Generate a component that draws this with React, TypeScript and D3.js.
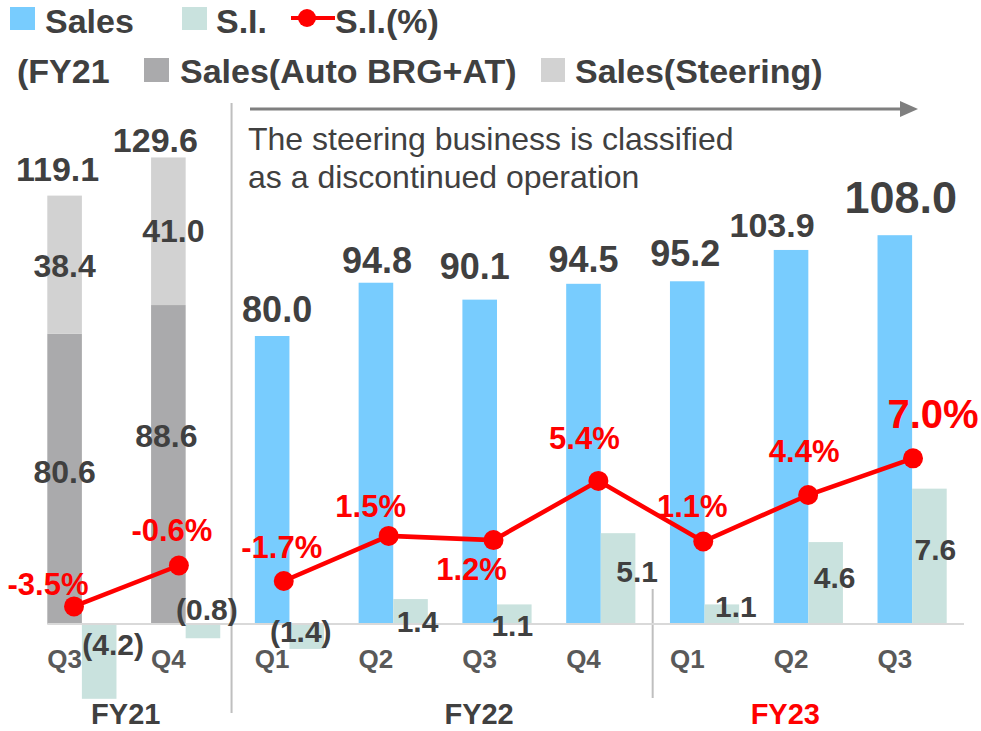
import * as d3 from "d3";

const periods = ["FY21 Q3", "FY21 Q4", "FY22 Q1", "FY22 Q2", "FY22 Q3", "FY22 Q4", "FY23 Q1", "FY23 Q2", "FY23 Q3"];
const quarterLabels = ["Q3", "Q4", "Q1", "Q2", "Q3", "Q4", "Q1", "Q2", "Q3"];
const sales = [119.1, 129.6, 80.0, 94.8, 90.1, 94.5, 95.2, 103.9, 108.0];
// FY21 sales split (before the steering business was discontinued)
const salesAuto = [80.6, 88.6];
const salesSteering = [38.4, 41.0];
const si = [-4.2, -0.8, -1.4, 1.4, 1.1, 5.1, 1.1, 4.6, 7.6];
const siPct = [-3.5, -0.6, -1.7, 1.5, 1.2, 5.4, 1.1, 4.4, 7.0];
const fiscalYears = ["FY21", "FY22", "FY23"];
const fyStart = [0, 2, 6];
const fyEnd = [1, 5, 8];

// label nudges
const salesNudge = [[-7, -14], [-13, -5], [5, -14], [1, -10], [-5, -21], [0, -12], [-2, -15], [-19, -13], [6, -22]];
const salesSize = [34, 34, 36, 36, 36, 36, 36, 34, 45];
const siNudge = [[14, 31], [4, -4], [-6, 18], [7, 8], [-2, 12], [19, -42], [14, -7], [9, -36], [6, -64]];
const pctNudge = [[-26, -11], [-7, -24], [-2, -23], [-18, -19], [-22, 40], [-14, -32], [-11, -25], [-4, -33], [20, -30]];
const autoNudge = [[0, 4], [-2, -18]];
const steerNudge = [[0, 12], [5, 11]];
const fyNudge = [-8, 34, -23];

const W = 981;
const H = 731;
const y0 = 624;
const yTop = 120;
const font = "'Liberation Sans', Arial, sans-serif";
const dark = "#404040";
const blue = "#78CCFE";
const siColor = "#C9E2DE";
const autoColor = "#AAAAAC";
const steerColor = "#D2D2D2";
const red = "#FF0000";

const fmtSI = (v: number) => (v < 0 ? `(${Math.abs(v).toFixed(1)})` : v.toFixed(1));
const fmtPct = (v: number) => `${v.toFixed(1)}%`;

export default function App() {
  const x = d3.scaleBand().domain(periods).range([30, 964]);
  const sub = d3.scaleBand().domain(["sales", "si"]).range([0, x.step()]).paddingOuter(0.5);
  const xLine = d3.scalePoint().domain(periods).range([74, 913]);
  const ySales = d3.scaleLinear().domain([0, 140]).range([y0, yTop]);
  const ySI = d3.scaleLinear().domain([0, 28.3]).range([y0, yTop]);
  const yPct = d3.scaleLinear().domain([-4.75, 31]).range([y0, yTop]);
  const bw = sub.bandwidth();

  const salesX = (i: number) => (x(periods[i]) ?? 0) + (sub("sales") ?? 0);
  const siX = (i: number) => (x(periods[i]) ?? 0) + (sub("si") ?? 0);

  const line = d3
    .line<number>()
    .x((i) => xLine(periods[i]) ?? 0)
    .y((i) => yPct(siPct[i]));
  // FY21 is drawn as its own segment
  const segments = [d3.range(0, 2), d3.range(2, periods.length)];

  const sep1 = (x(periods[2]) ?? 0) - 6;
  const sep2 = x(periods[6]) ?? 0;

  return (
    <svg
      width={W}
      height={H}
      viewBox={`0 0 ${W} ${H}`}
      style={{ position: "absolute", left: 0, top: 0, fontFamily: font }}
    >
      <rect width={W} height={H} fill="#fff" />

      {/* legend */}
      <g fontWeight="bold" fontSize={34} fill={dark}>
        <rect x={10} y={7} width={25} height={23} fill={blue} />
        <text x={45} y={33}>Sales</text>
        <rect x={182} y={7} width={25} height={23} fill={siColor} />
        <text x={216} y={33}>S.I.</text>
        <line x1={291} x2={335} y1={18} y2={18} stroke={red} strokeWidth={4} />
        <circle cx={307} cy={18} r={9} fill={red} />
        <text x={335} y={33}>S.I.(%)</text>
        <text x={17} y={83}>(FY21</text>
        <rect x={144} y={58} width={25} height={24} fill={autoColor} />
        <text x={180} y={83}>Sales(Auto BRG+AT)</text>
        <rect x={541} y={58} width={24} height={24} fill={steerColor} />
        <text x={575} y={83}>Sales(Steering)</text>
      </g>

      {/* arrow + note */}
      <line x1={250} x2={904} y1={109} y2={109} stroke="#7F7F7F" strokeWidth={3} />
      <path d="M918,109 L900,101 L900,117 Z" fill="#7F7F7F" />
      <g fontSize={32} fill={dark}>
        <text x={248} y={150}>The steering business is classified</text>
        <text x={248} y={188}>as a discontinued operation</text>
      </g>

      {/* separators */}
      <line x1={sep1} x2={sep1} y1={103} y2={713} stroke="#BFBFBF" strokeWidth={2} />
      <line x1={sep2} x2={sep2} y1={589} y2={698} stroke="#BFBFBF" strokeWidth={2} />

      {/* FY21 stacked sales */}
      {salesAuto.map((v, i) => (
        <g key={`st${i}`}>
          <rect x={salesX(i)} y={ySales(v)} width={bw} height={y0 - ySales(v)} fill={autoColor} />
          <rect
            x={salesX(i)}
            y={ySales(v + salesSteering[i])}
            width={bw}
            height={ySales(v) - ySales(v + salesSteering[i])}
            fill={steerColor}
          />
        </g>
      ))}

      {/* FY22-23 sales */}
      {sales.map((v, i) =>
        i < salesAuto.length ? null : (
          <rect key={`s${i}`} x={salesX(i)} y={ySales(v)} width={bw} height={y0 - ySales(v)} fill={blue} />
        )
      )}

      {/* S.I. */}
      {si.map((v, i) => (
        <rect
          key={`si${i}`}
          x={siX(i)}
          y={Math.min(ySI(v), ySI(0))}
          width={bw}
          height={Math.abs(ySI(v) - ySI(0))}
          fill={siColor}
        />
      ))}

      {/* baseline */}
      <line x1={salesX(0)} x2={964} y1={y0} y2={y0} stroke="#D9D9D9" strokeWidth={2} />

      {/* stacked labels */}
      <g fontWeight="bold" fontSize={32} fill={dark} textAnchor="middle">
        {salesAuto.map((v, i) => (
          <text key={`al${i}`} x={salesX(i) + bw / 2 + autoNudge[i][0]} y={(ySales(v) + y0) / 2 + autoNudge[i][1]}>
            {v.toFixed(1)}
          </text>
        ))}
        {salesSteering.map((v, i) => (
          <text
            key={`sl${i}`}
            x={salesX(i) + bw / 2 + steerNudge[i][0]}
            y={(ySales(salesAuto[i]) + ySales(salesAuto[i] + v)) / 2 + steerNudge[i][1]}
          >
            {v.toFixed(1)}
          </text>
        ))}
      </g>

      {/* sales totals */}
      <g fontWeight="bold" fill={dark} textAnchor="middle">
        {sales.map((v, i) => (
          <text
            key={`tl${i}`}
            x={salesX(i) + bw / 2 + salesNudge[i][0]}
            y={ySales(v) + salesNudge[i][1]}
            fontSize={salesSize[i]}
          >
            {v.toFixed(1)}
          </text>
        ))}
      </g>

      {/* S.I. labels */}
      <g fontWeight="bold" fontSize={30} fill={dark} textAnchor="middle">
        {si.map((v, i) => (
          <text key={`sil${i}`} x={siX(i) + bw / 2 + siNudge[i][0]} y={ySI(0) + siNudge[i][1]}>
            {fmtSI(v)}
          </text>
        ))}
      </g>

      {/* S.I.(%) line */}
      {segments.map((seg, k) => (
        <path key={`ln${k}`} d={line(seg) ?? ""} fill="none" stroke={red} strokeWidth={4.5} />
      ))}
      {siPct.map((v, i) => (
        <circle key={`pt${i}`} cx={xLine(periods[i]) ?? 0} cy={yPct(v)} r={10} fill={red} />
      ))}
      <g fontWeight="bold" fill={red} textAnchor="middle">
        {siPct.map((v, i) => (
          <text
            key={`pl${i}`}
            x={(xLine(periods[i]) ?? 0) + pctNudge[i][0]}
            y={yPct(v) + pctNudge[i][1]}
            fontSize={i === siPct.length - 1 ? 40 : 31}
          >
            {fmtPct(v)}
          </text>
        ))}
      </g>

      {/* x axis */}
      <g fontWeight="bold" fontSize={26} fill="#595959" textAnchor="middle">
        {quarterLabels.map((q, i) => (
          <text key={`q${i}`} x={salesX(i) + bw / 2} y={668}>
            {q}
          </text>
        ))}
      </g>
      <g fontWeight="bold" fontSize={29} textAnchor="middle">
        {fiscalYears.map((fy, k) => {
          const a = x(periods[fyStart[k]]) ?? 0;
          const b = (x(periods[fyEnd[k]]) ?? 0) + x.bandwidth();
          return (
            <text key={fy} x={(a + b) / 2 + fyNudge[k]} y={724} fill={k === 2 ? red : dark}>
              {fy}
            </text>
          );
        })}
      </g>
    </svg>
  );
}
